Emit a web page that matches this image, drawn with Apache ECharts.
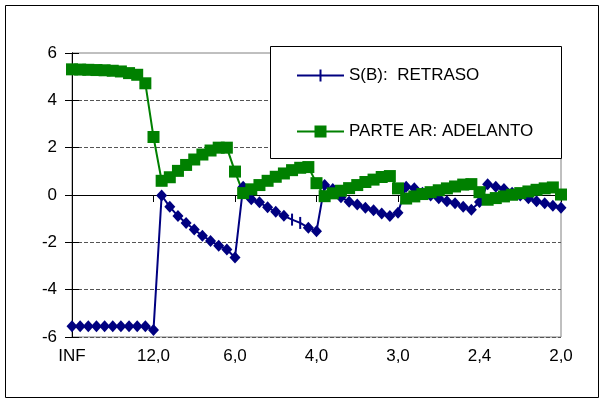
<!DOCTYPE html>
<html>
<head>
<meta charset="utf-8">
<script src="https://cdn.jsdelivr.net/npm/echarts@6/dist/echarts.min.js"></script>
<style>
  html, body { margin: 0; padding: 0; background: #ffffff; }
  #chart { width: 605px; height: 403px; }
</style>
</head>
<body>
<div id="chart"></div>
<script>
// Axis labels: one label every POINTS_PER_TICK points
const tickLabels = ['INF', '12,0', '6,0', '4,0', '3,0', '2,4', '2,0'];
const POINTS_PER_TICK = 10;

// S(B): RETRASO
const retraso = [
  -5.55, -5.55, -5.55, -5.55, -5.55, -5.55, -5.55, -5.55, -5.55, -5.55,
  -5.70, -0.02, -0.50, -0.89, -1.18, -1.46, -1.72, -1.94, -2.14, -2.30,
  -2.64, 0.35, -0.18, -0.31, -0.52, -0.71, -0.88, -1.04, -1.18, -1.38,
  -1.53, 0.42, 0.25, -0.10, -0.28, -0.40, -0.54, -0.64, -0.78, -0.89,
  -0.75, 0.35, 0.28, 0.10, -0.02, -0.14, -0.26, -0.35, -0.50, -0.62,
  -0.30, 0.45, 0.35, 0.25, 0.10, -0.02, -0.14, -0.26, -0.35, -0.45,
  -0.54
];

// PARTE AR: ADELANTO
const adelanto = [
  5.31, 5.30, 5.29, 5.28, 5.27, 5.25, 5.22, 5.15, 5.08, 4.72,
  2.45, 0.60, 0.75, 1.02, 1.27, 1.50, 1.71, 1.88, 2.00, 2.00,
  0.99, 0.08, 0.24, 0.42, 0.60, 0.77, 0.91, 1.05, 1.15, 1.18,
  0.50, -0.05, 0.07, 0.18, 0.29, 0.42, 0.55, 0.65, 0.76, 0.80,
  0.28, -0.15, -0.06, 0.04, 0.12, 0.20, 0.28, 0.36, 0.44, 0.46,
  0.12, -0.20, -0.13, -0.06, 0.01, 0.08, 0.15, 0.22, 0.28, 0.32,
  0.02
];

// Points of the RETRASO series drawn with a bar marker instead of a diamond
const barMarkerPoints = [27, 28];

const seriesNames = ['S(B):  RETRASO', 'PARTE AR: ADELANTO'];

// Category axis: a label on every tick position, blank in between
const categories = retraso.map((_, i) =>
  i % POINTS_PER_TICK === 0 ? tickLabels[i / POINTS_PER_TICK] : '');

const FONT = 'Liberation Sans, Arial, sans-serif';
const BLUE = '#000080';
const GREEN = '#008000';

const retrasoData = retraso.map((v, i) =>
  barMarkerPoints.includes(i)
    ? { value: v, symbol: 'rect', symbolSize: [2, 12] }
    : v);

const axisCommon = {
  type: 'category',
  data: categories,
  boundaryGap: false,
  axisLine: { show: true, lineStyle: { color: '#000', width: 1 } },
  splitLine: { show: false }
};

const chart = echarts.init(document.getElementById('chart'), null, { renderer: 'canvas' });

chart.setOption({
  animation: false,
  backgroundColor: '#ffffff',
  textStyle: { fontFamily: FONT },
  grid: {
    left: 72, top: 53, right: 44, bottom: 66,
    show: true, borderColor: '#808080', borderWidth: 1, backgroundColor: 'transparent'
  },
  graphic: [
    {
      // chart-area frame
      type: 'rect',
      z: 0,
      silent: true,
      shape: { x: 5.5, y: 5.5, width: 593, height: 392 },
      style: { fill: 'none', stroke: '#000000', lineWidth: 1 }
    },
    {
      // legend panel
      type: 'rect',
      z: 10,
      shape: { x: 270.5, y: 46.5, width: 291, height: 112 },
      style: { fill: '#ffffff', stroke: '#000000', lineWidth: 1 }
    }
  ],
  legend: {
    z: 20,
    orient: 'vertical',
    left: 292,
    top: 62,
    itemWidth: 47,
    itemHeight: 12,
    itemGap: 39,
    textStyle: { fontFamily: FONT, fontSize: 17, color: '#000' },
    data: [
      { name: seriesNames[0], icon: 'path://M0,5 H22.5 V0 H24.5 V5 H47 V7 H24.5 V12 H22.5 V7 H0 Z' },
      { name: seriesNames[1], icon: 'path://M0,5 H17.5 V0 H29.5 V5 H47 V7 H29.5 V12 H17.5 V7 H0 Z' }
    ]
  },
  xAxis: [
    Object.assign({}, axisCommon, {
      axisTick: { show: true, interval: POINTS_PER_TICK - 1, length: 7, lineStyle: { color: '#000' } },
      axisLabel: {
        interval: POINTS_PER_TICK - 1, margin: 11,
        fontFamily: FONT, fontSize: 17, color: '#000'
      }
    }),
    Object.assign({}, axisCommon, {
      axisTick: { show: true, inside: true, interval: POINTS_PER_TICK - 1, length: 7, lineStyle: { color: '#000' } },
      axisLabel: { show: false }
    })
  ],
  yAxis: [
    {
      type: 'value', min: -6, max: 6, interval: 2,
      axisLine: { show: true, lineStyle: { color: '#000' } },
      axisTick: { show: true, length: 7, lineStyle: { color: '#000' } },
      axisLabel: { margin: 15, fontFamily: FONT, fontSize: 17, color: '#000' },
      splitLine: {
        show: true, showMaxLine: false,
        lineStyle: { color: '#555', type: [4, 2], width: 1 }
      }
    },
    {
      type: 'value', min: -6, max: 6, interval: 2, position: 'left',
      axisLine: { show: true, lineStyle: { color: '#000' } },
      axisTick: { show: true, inside: true, length: 7, lineStyle: { color: '#000' } },
      axisLabel: { show: false },
      splitLine: { show: false }
    }
  ],
  series: [
    {
      name: seriesNames[0],
      type: 'line',
      xAxisIndex: 0, yAxisIndex: 0,
      data: retrasoData,
      symbol: 'diamond',
      symbolSize: [11, 12],
      showAllSymbol: true,
      color: BLUE,
      lineStyle: { color: BLUE, width: 2 },
      itemStyle: { color: BLUE, borderWidth: 0 },
      emphasis: { disabled: true }
    },
    {
      name: seriesNames[1],
      type: 'line',
      xAxisIndex: 0, yAxisIndex: 0,
      data: adelanto,
      symbol: 'rect',
      symbolSize: 12,
      showAllSymbol: true,
      color: GREEN,
      lineStyle: { color: GREEN, width: 2 },
      itemStyle: { color: GREEN, borderWidth: 0 },
      emphasis: { disabled: true }
    }
  ]
});
</script>
</body>
</html>
